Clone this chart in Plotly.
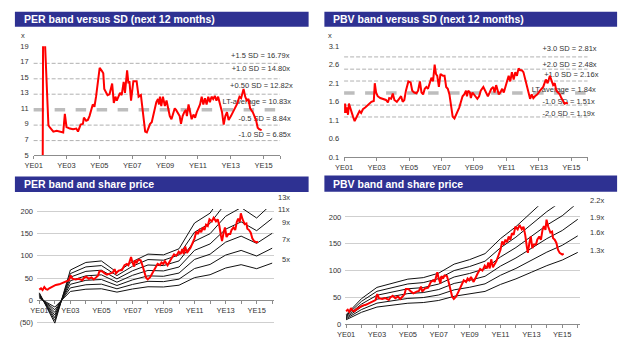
import plotly.graph_objects as go

W, H = 624, 345

# ---------------- data ----------------
year_ticks = [2001, 2003, 2005, 2007, 2009, 2011, 2013, 2015]
year_labels = ["YE01", "YE03", "YE05", "YE07", "YE09", "YE11", "YE13", "YE15"]

# PER (next 12 months), x
per_years = [2001.55, 2001.58, 2001.68, 2001.90, 2002.00, 2002.20, 2002.40, 2002.60, 2002.80, 2002.90,
             2003.00, 2003.20, 2003.40, 2003.60, 2003.70, 2003.86, 2004.00, 2004.06, 2004.20, 2004.30,
             2004.40, 2004.60, 2004.70, 2004.80, 2004.94, 2005.02, 2005.16, 2005.24, 2005.30, 2005.40,
             2005.50, 2005.62, 2005.78, 2005.88, 2005.98, 2006.06, 2006.16, 2006.26, 2006.36, 2006.48,
             2006.56, 2006.62, 2006.69, 2006.77, 2006.83, 2006.93, 2007.07, 2007.27, 2007.39, 2007.53,
             2007.59, 2007.69, 2007.79, 2007.89, 2007.99, 2008.09, 2008.19, 2008.27, 2008.37, 2008.47,
             2008.57, 2008.63, 2008.69, 2008.77, 2008.87, 2008.93, 2008.99, 2009.09, 2009.19, 2009.29,
             2009.39, 2009.49, 2009.59, 2009.67, 2009.79, 2009.89, 2009.97, 2010.07, 2010.17, 2010.27,
             2010.33, 2010.43, 2010.53, 2010.62, 2010.73, 2010.83, 2010.93, 2011.03, 2011.13, 2011.23,
             2011.33, 2011.43, 2011.53, 2011.63, 2011.73, 2011.83, 2011.93, 2012.03, 2012.13, 2012.23,
             2012.33, 2012.47, 2012.57, 2012.67, 2012.77, 2012.87, 2013.01, 2013.13, 2013.27, 2013.37,
             2013.53, 2013.63, 2013.78, 2013.88, 2013.98, 2014.08, 2014.18, 2014.34, 2014.44, 2014.54,
             2014.64, 2014.74, 2014.88]
per_vals = [2.0, 24.0, 20.0, 8.8, 8.5, 8.0, 8.1, 8.0, 7.9, 10.3,
            8.6, 8.4, 8.3, 8.4, 8.0, 8.9, 9.0, 9.8, 9.4, 9.5,
            10.0, 11.5, 11.2, 12.5, 14.5, 16.2, 15.8, 15.5, 13.5, 13.0,
            12.7, 12.8, 14.2, 11.7, 12.5, 12.0, 12.5, 13.0, 12.7, 14.4,
            13.0, 14.0, 15.9, 14.2, 14.5, 12.0, 14.5, 14.5, 12.5, 12.7,
            11.5, 9.5, 8.0, 7.9, 8.5, 9.0, 9.2, 10.0, 11.0, 11.8,
            12.2, 11.5, 12.5, 11.3, 12.5, 12.0, 11.3, 12.0, 11.0, 10.0,
            9.6, 10.2, 11.0, 10.8, 10.3, 10.0, 9.0, 10.0, 10.5, 10.8,
            10.0, 11.5, 10.5, 9.6, 10.2, 9.8, 10.5, 11.0, 11.5, 12.5,
            11.5, 12.3, 11.5, 12.5, 11.8, 12.5, 12.2, 12.6, 12.0, 12.5,
            11.5, 10.5, 8.9, 10.0, 10.5, 9.5, 10.0, 10.5, 11.0, 11.5,
            12.5, 12.3, 13.5, 12.5, 12.0, 12.2, 11.0, 10.5, 10.0, 9.5,
            8.5, 8.3, 8.2]
per_sd_names = ["+1.5 SD", "+1.0 SD", "+0.50 SD", "LT-average", "-0.5 SD", "-1.0 SD"]
per_sd_vals = [16.79, 14.80, 12.82, 10.83, 8.84, 6.85]

# PBV (next 12 months), x
pbv_years = [2001.00, 2001.06, 2001.12, 2001.18, 2001.24, 2001.30, 2001.37, 2001.45, 2001.55, 2001.65,
             2001.75, 2001.85, 2001.95, 2002.05, 2002.16, 2002.32, 2002.52, 2002.68, 2002.83, 2002.89,
             2002.97, 2003.07, 2003.23, 2003.43, 2003.58, 2003.70, 2003.78, 2003.90, 2004.00, 2004.10,
             2004.25, 2004.39, 2004.51, 2004.61, 2004.71, 2004.81, 2004.96, 2005.10, 2005.20, 2005.32,
             2005.46, 2005.56, 2005.67, 2005.77, 2005.87, 2005.97, 2006.07, 2006.17, 2006.27, 2006.38,
             2006.48, 2006.58, 2006.66, 2006.74, 2006.84, 2006.94, 2007.09, 2007.19, 2007.29, 2007.39,
             2007.49, 2007.59, 2007.69, 2007.80, 2007.90, 2008.00, 2008.10, 2008.20, 2008.30, 2008.40,
             2008.51, 2008.57, 2008.65, 2008.75, 2008.81, 2008.91, 2009.01, 2009.11, 2009.21, 2009.32,
             2009.42, 2009.58, 2009.68, 2009.78, 2009.86, 2009.97, 2010.07, 2010.19, 2010.27, 2010.37,
             2010.43, 2010.53, 2010.63, 2010.74, 2010.84, 2010.94, 2011.04, 2011.14, 2011.24, 2011.34,
             2011.45, 2011.55, 2011.65, 2011.75, 2011.85, 2011.95, 2012.05, 2012.16, 2012.26, 2012.36,
             2012.46, 2012.56, 2012.66, 2012.76, 2012.91, 2013.07, 2013.27, 2013.43, 2013.54, 2013.68,
             2013.78, 2013.88, 2013.98, 2014.08, 2014.18, 2014.29, 2014.39, 2014.49, 2014.59, 2014.69,
             2014.79]
pbv_vals = [1.30, 1.55, 1.30, 1.45, 1.25, 1.55, 1.45, 1.30, 1.20, 1.08,
            1.18, 1.25, 1.35, 1.30, 1.40, 1.45, 1.52, 1.60, 1.62, 2.10,
            1.85, 1.75, 1.70, 1.68, 1.65, 1.58, 1.70, 1.68, 1.82, 1.65,
            1.60, 1.68, 1.75, 1.60, 1.65, 1.90, 2.15, 2.12, 1.90, 1.85,
            1.83, 1.90, 2.15, 1.85, 1.80, 1.95, 2.00, 1.95, 2.10, 2.25,
            2.15, 2.60, 2.35, 2.30, 2.00, 2.35, 2.30, 2.30, 2.00, 1.95,
            1.80, 1.50, 1.20, 1.15, 1.25, 1.30, 1.45, 1.60, 1.75, 1.80,
            1.90, 1.75, 1.90, 1.85, 1.70, 1.85, 1.80, 1.75, 1.68, 1.75,
            1.90, 2.00, 1.92, 1.80, 1.75, 1.85, 1.95, 2.00, 1.85, 2.05,
            1.95, 1.80, 1.85, 1.95, 1.85, 2.00, 2.20, 2.30, 2.15, 2.40,
            2.20, 2.40, 2.30, 2.50, 2.45, 2.45, 2.40, 2.20, 2.00, 1.80,
            1.68, 1.80, 1.70, 1.75, 1.80, 1.90, 2.00, 2.20, 2.10, 2.30,
            2.20, 2.05, 2.10, 1.90, 1.85, 1.80, 1.70, 1.60, 1.55, 1.57,
            1.55]
pbv_sd_names = ["+3.0 SD", "+2.0 SD", "+1.0 SD", "LT average", "-1.0 SD", "-2.0 SD"]
pbv_sd_vals = [2.81, 2.48, 2.16, 1.84, 1.51, 1.19]

# Share price
price_years = [2001.00, 2001.11, 2001.21, 2001.32, 2001.43, 2001.53, 2001.64, 2001.85, 2002.06, 2002.28,
               2002.49, 2002.70, 2002.91, 2003.02, 2003.13, 2003.34, 2003.55, 2003.77, 2003.87, 2004.02,
               2004.19, 2004.36, 2004.51, 2004.66, 2004.79, 2004.87, 2005.04, 2005.21, 2005.36, 2005.57,
               2005.72, 2005.85, 2005.94, 2006.11, 2006.32, 2006.49, 2006.64, 2006.74, 2006.85, 2006.91,
               2007.00, 2007.11, 2007.17, 2007.28, 2007.38, 2007.53, 2007.64, 2007.77, 2007.87, 2007.98,
               2008.13, 2008.28, 2008.45, 2008.62, 2008.77, 2008.87, 2008.98, 2009.09, 2009.26, 2009.36,
               2009.51, 2009.68, 2009.83, 2009.98, 2010.11, 2010.21, 2010.30, 2010.40, 2010.51, 2010.62,
               2010.74, 2010.89, 2011.00, 2011.11, 2011.21, 2011.32, 2011.43, 2011.53, 2011.64, 2011.74,
               2011.85, 2011.96, 2012.11, 2012.23, 2012.38, 2012.49, 2012.60, 2012.70, 2012.77, 2012.87,
               2012.96, 2013.06, 2013.17, 2013.30, 2013.38, 2013.51, 2013.62, 2013.72, 2013.81, 2013.91,
               2013.98, 2014.09, 2014.19, 2014.23, 2014.34, 2014.40, 2014.51, 2014.62, 2014.72, 2014.83,
               2015.00, 2015.09]
price_vals = [24, 27, 23, 30, 25, 24, 27, 31.5, 34.5, 36,
              39, 42, 45, 56, 48.5, 47, 48.5, 45, 50, 53,
              48.5, 51.5, 47, 51.5, 56, 65.5, 65.5, 60.6, 57.6, 60.6,
              62, 70, 60.6, 66.7, 68, 78.8, 81.8, 78.8, 91, 97,
              85, 75.8, 89.7, 85, 91, 89.7, 78.8, 65.5, 51.5, 47,
              51.5, 60.6, 72.7, 81.8, 78.8, 85, 81.8, 88, 78.8, 86,
              94, 103, 100, 109, 104, 115, 104, 121, 106, 112,
              118, 130, 139, 154.5, 148.5, 157.6, 152.7, 163.6, 157.6, 169.7,
              166.7, 181.8, 177, 185, 177, 181.8, 166.7, 145, 133, 151.5,
              163.6, 142, 148.5, 148.5, 157.6, 163.6, 157.6, 175.8, 183, 175.8,
              195, 181.8, 175.8, 171, 172.7, 160.6, 157.6, 151.5, 139, 133,
              130, 131.5]

# Band inputs (year-end)
band_years = [2001, 2002, 2003, 2004, 2005, 2006, 2007, 2008, 2009, 2010, 2011, 2012, 2013, 2014, 2015, 2016]
eps_vals = [1.0, -3.0, 4.0, 5.0, 5.2, 3.7, 5.1, 6.1, 6.0, 6.8, 10.2, 11.5, 14.5, 16.0, 14.2, 16.7]
per_multiples = [5, 7, 9, 11, 13, 15, 17]
per_band_labels = ["13x", "11x", "9x", "7x", "5x"]
bvps_vals = [6.2, 17, 24.5, 27.5, 30, 31, 34, 40, 43, 47, 57, 65, 74.5, 84, 92, 103]
pbv_multiples = [1.3, 1.6, 1.9, 2.2, 2.5, 2.8]
pbv_band_labels = ["2.2x", "1.9x", "1.6x", "1.3x"]

titles = ["PER band versus SD (next 12 months)", "PBV band versus SD (next 12 months)",
          "PER band and share price", "PBV band and share price"]

# ---------------- styling ----------------
RED = "#FF0000"
BLUE = "#2E3192"
TXT = "#333333"
FONT = "Liberation Sans, Arial, sans-serif"
TICKF = dict(family=FONT, size=7.5, color=TXT)


def px(x):
    return x / W


def py(y):
    return 1 - y / H


fig = go.Figure()

# ---- top-left: PER vs SD ----
for v in per_sd_vals:
    is_avg = abs(v - per_sd_vals[3]) < 1e-9
    fig.add_shape(type="line", xref="x domain", yref="y", x0=0, x1=1, y0=v, y1=v, layer="below",
                  line=dict(color="#BDBDBD" if is_avg else "#A8A8A8", width=3.5 if is_avg else 0.9,
                            dash="dash" if is_avg else "4px,2px"))
# label placement (left edge in x units, centre in y units)
per_lab_x = [2013.02, 2013.06, 2012.96, 2012.50, 2013.47, 2013.47]
per_lab_y = [17.74, 15.99, 13.90, 11.77, 9.60, 7.51]
fig.add_trace(go.Scatter(
    x=per_lab_x, y=per_lab_y, mode="text",
    text=[f"{n} = {v:.2f}x" for n, v in zip(per_sd_names, per_sd_vals)],
    textposition="middle right", textfont=TICKF, cliponaxis=False, hoverinfo="skip",
    xaxis="x", yaxis="y", showlegend=False))
fig.add_trace(go.Scatter(x=per_years, y=per_vals, mode="lines", line=dict(color=RED, width=2),
                         xaxis="x", yaxis="y", showlegend=False))

# ---- top-right: PBV vs SD ----
for v in pbv_sd_vals:
    is_avg = abs(v - pbv_sd_vals[3]) < 1e-9
    fig.add_shape(type="line", xref="x2 domain", yref="y2", x0=0, x1=1, y0=v, y1=v, layer="below",
                  line=dict(color="#BDBDBD" if is_avg else "#A8A8A8", width=3.5 if is_avg else 0.9,
                            dash="dash" if is_avg else "4px,2px"))
pbv_lab_x = [2013.22, 2013.22, 2013.33, 2012.56, 2013.22, 2013.22]
pbv_lab_y = [3.01, 2.60, 2.31, 1.92, 1.58, 1.28]
fig.add_trace(go.Scatter(
    x=pbv_lab_x, y=pbv_lab_y, mode="text",
    text=[f"{n} = {v:.2f}x" for n, v in zip(pbv_sd_names, pbv_sd_vals)],
    textposition="middle right", textfont=TICKF, cliponaxis=False, hoverinfo="skip",
    xaxis="x2", yaxis="y2", showlegend=False))
fig.add_trace(go.Scatter(x=pbv_years, y=pbv_vals, mode="lines", line=dict(color=RED, width=2),
                         xaxis="x2", yaxis="y2", showlegend=False))

# ---- bottom-left: PER band ----
for m in per_multiples:
    fig.add_trace(go.Scatter(x=band_years, y=[m * e for e in eps_vals], mode="lines",
                             line=dict(color="#111111", width=1), xaxis="x3", yaxis="y3",
                             showlegend=False))
fig.add_trace(go.Scatter(x=price_years, y=price_vals, mode="lines", line=dict(color=RED, width=2),
                         xaxis="x3", yaxis="y3", showlegend=False))

# ---- bottom-right: PBV band ----
for m in pbv_multiples:
    fig.add_trace(go.Scatter(x=band_years, y=[m * b for b in bvps_vals], mode="lines",
                             line=dict(color="#111111", width=1), xaxis="x4", yaxis="y4",
                             showlegend=False))
fig.add_trace(go.Scatter(x=price_years, y=price_vals, mode="lines", line=dict(color=RED, width=2),
                         xaxis="x4", yaxis="y4", showlegend=False))

# ---- title bars ----
bars = [(6, 304, 8, 23.3, 13), (320, 617, 8, 23.3, 327), (6, 304, 177, 193, 13), (320, 617, 176, 192.7, 327)]
annotations = []
for (x0, x1, y0, y1, tx), t in zip(bars, titles):
    fig.add_shape(type="rect", xref="paper", yref="paper", x0=px(x0), x1=px(x1), y0=py(y1), y1=py(y0),
                  fillcolor=BLUE, line=dict(width=0), layer="above")
    annotations.append(dict(xref="paper", yref="paper", x=px(tx), y=py((y0 + y1) / 2), text=f"<b>{t}</b>",
                            showarrow=False, xanchor="left", yanchor="middle",
                            font=dict(family=FONT, size=10.5, color="white")))

# unit labels
for ux in (14, 326):
    annotations.append(dict(xref="paper", yref="paper", x=px(ux), y=py(32), text="x", showarrow=False,
                            xanchor="center", yanchor="middle", font=TICKF))

# band labels
per_lab_py = [199, 210.7, 224.3, 241.7, 262.7]
for t, yy in zip(per_band_labels, per_lab_py):
    annotations.append(dict(xref="paper", yref="paper", x=px(287), y=py(yy), text=t, showarrow=False,
                            xanchor="right", yanchor="middle", font=TICKF))
pbv_lab_py = [201.3, 219.3, 234.3, 252.7]
for t, yy in zip(pbv_band_labels, pbv_lab_py):
    annotations.append(dict(xref="paper", yref="paper", x=px(587), y=py(yy), text=t, showarrow=False,
                            xanchor="left", yanchor="middle", font=TICKF))

AX = "#8C8C8C"
top_x = dict(range=[2001, 2016], tickvals=year_ticks + [2016], ticktext=year_labels + [""],
             ticks="outside", ticklen=3, tickcolor=AX, showline=True, linecolor=AX, linewidth=1,
             showgrid=False, zeroline=False, tickfont=TICKF, fixedrange=True)
all_years = list(range(2001, 2017))
all_labels = [f"YE{str(y)[2:]}" if y in year_ticks else "" for y in all_years]
bot_x = dict(tickvals=all_years, ticktext=all_labels, ticks="outside", ticklen=3, tickcolor=AX,
             showline=True, linecolor=AX, linewidth=1, showgrid=False, zeroline=False, tickfont=TICKF)

fig.update_layout(
    width=W, height=H, margin=dict(l=0, r=0, t=0, b=0),
    paper_bgcolor="white", plot_bgcolor="white",
    font=dict(family=FONT, color=TXT),
    showlegend=False,
    annotations=annotations,
    xaxis=dict(domain=[px(25), px(275)], anchor="y", **top_x),
    yaxis=dict(domain=[py(155), py(43.3)], anchor="x", range=[5, 19], tickvals=list(range(5, 20, 2)),
               showgrid=False, zeroline=False, showline=False, ticks="", tickfont=TICKF,
               ticklabelstandoff=4),
    xaxis2=dict(domain=[px(340), px(587)], anchor="y2", **top_x),
    yaxis2=dict(domain=[py(157.5), py(43.3)], anchor="x2", range=[0.1, 3.1],
                tickvals=[0.1, 0.6, 1.1, 1.6, 2.1, 2.6, 3.1], ticktext=["0.1", "0.6", "1.1", "1.6", "2.1", "2.6", "3.1"],
                showgrid=False, zeroline=False, showline=False, ticks="", tickfont=TICKF,
                ticklabelstandoff=4),
    xaxis3=dict(domain=[px(28.4), px(268.6)], anchor="free", position=py(304.3), range=[2000.85, 2016.1],
                layer="below traces", **bot_x),
    yaxis3=dict(domain=[py(329.5), py(210.4)], anchor="x3", range=[-55, 205],
                tickvals=[-50, 0, 50, 100, 150, 200], ticktext=["(50)", "0", "50", "100", "150", "200"],
                showgrid=True, gridcolor="#CFCFCF", gridwidth=1, zeroline=False, showline=False, ticks="",
                tickfont=TICKF, ticklabelstandoff=3),
    xaxis4=dict(domain=[px(341.2), px(579.4)], anchor="y4", range=[2000.95, 2016.15], **bot_x),
    yaxis4=dict(domain=[py(328.7), py(207.7)], anchor="x4", range=[0, 220],
                tickvals=[0, 50, 100, 150, 200],
                showgrid=True, gridcolor="#CFCFCF", gridwidth=1, zeroline=False, showline=False, ticks="",
                tickfont=TICKF, ticklabelstandoff=3),
)

fig.write_html("out.html")
